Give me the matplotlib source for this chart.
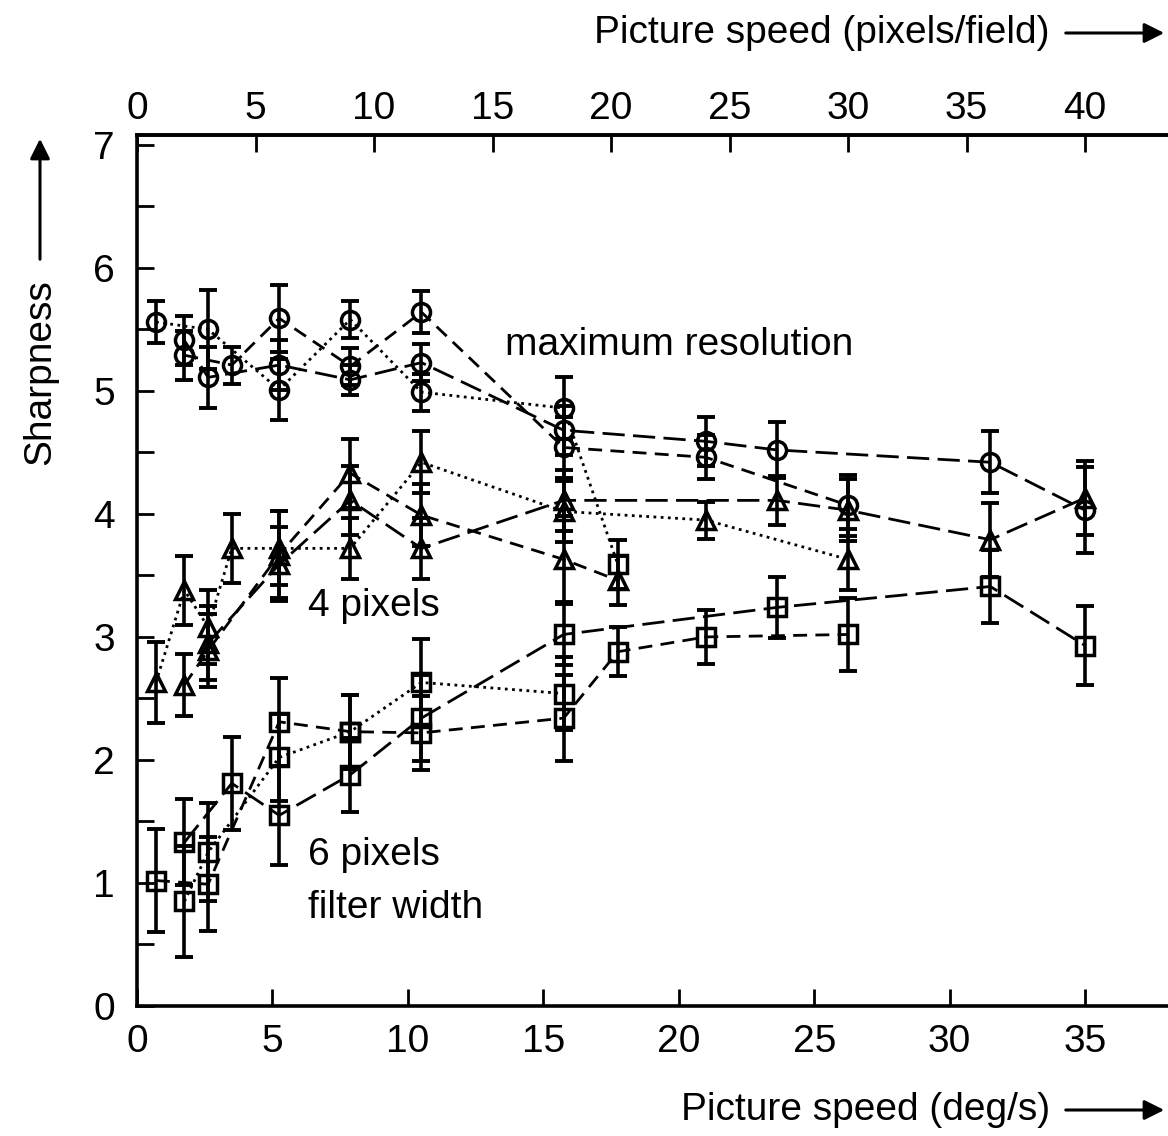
import matplotlib
matplotlib.use("Agg")
import matplotlib.pyplot as plt
import numpy as np

plt.rcParams['font.family'] = ['Liberation Sans', 'DejaVu Sans']

# ---- data (speed in deg/s, sharpness, error half-width) ----
# maximum resolution (circles)
c_dash_x = [1.75, 3.5, 5.25, 7.875, 10.5, 15.75, 21, 26.25]
c_dash_y = [5.29, 5.21, 5.59, 5.20, 5.64, 4.54, 4.46, 4.07]
c_dash_e = [0.20, 0.15, 0.27, 0.15, 0.17, 0.25, 0.18, 0.25]

c_dot_x = [0.7, 2.625, 5.25, 7.875, 10.5, 15.75, 17.75]
c_dot_y = [5.56, 5.50, 5.01, 5.58, 4.99, 4.86, 3.59]
c_dot_e = [0.17, 0.32, 0.25, 0.15, 0.15, 0.25, 0.20]

c_ld_x = [1.75, 2.625, 5.25, 7.875, 10.5, 15.75, 21, 23.625, 31.5, 35]
c_ld_y = [5.41, 5.11, 5.21, 5.09, 5.23, 4.68, 4.59, 4.52, 4.42, 4.03]
c_ld_e = [0.20, 0.25, 0.20, 0.12, 0.15, 0.20, 0.20, 0.23, 0.25, 0.35]

# 4 pixels filter (triangles)
t_dot_x = [0.7, 1.75, 2.625, 3.5, 5.25, 7.875, 10.5, 15.75, 21, 26.25]
t_dot_y = [2.63, 3.38, 3.08, 3.72, 3.72, 3.72, 4.42, 4.02, 3.95, 3.63]
t_dot_e = [0.33, 0.28, 0.30, 0.28, 0.30, 0.25, 0.25, 0.25, 0.15, 0.25]

t_dash_x = [1.75, 2.625, 5.25, 7.875, 10.5, 15.75, 17.75]
t_dash_y = [2.61, 2.89, 3.67, 4.33, 3.99, 3.63, 3.46]
t_dash_e = [0.25, 0.30, 0.35, 0.28, 0.25, 0.35, 0.20]

t_ld_x = [2.625, 5.25, 7.875, 10.5, 15.75, 23.625, 26.25, 31.5, 35]
t_ld_y = [2.95, 3.59, 4.11, 3.72, 4.11, 4.11, 4.03, 3.79, 4.13]
t_ld_e = [0.30, 0.30, 0.28, 0.25, 0.25, 0.20, 0.25, 0.30, 0.30]

# 6 pixels filter (squares)
s_ld_x = [1.75, 3.5, 5.25, 7.875, 10.5, 15.75, 23.625, 31.5, 35]
s_ld_y = [1.33, 1.81, 1.55, 1.88, 2.34, 3.02, 3.24, 3.41, 2.93]
s_ld_e = [0.35, 0.38, 0.40, 0.30, 0.35, 0.25, 0.25, 0.30, 0.32]

s_dash_x = [0.7, 2.625, 5.25, 7.875, 10.5, 15.75, 17.75, 21, 26.25]
s_dash_y = [1.02, 0.99, 2.31, 2.23, 2.22, 2.34, 2.88, 3.00, 3.02]
s_dash_e = [0.42, 0.38, 0.36, 0.30, 0.30, 0.35, 0.20, 0.22, 0.30]

s_dot_x = [1.75, 2.625, 5.25, 7.875, 10.5, 15.75]
s_dot_y = [0.85, 1.25, 2.02, 2.23, 2.63, 2.54]
s_dot_e = [0.45, 0.40, 0.35, 0.30, 0.35, 0.30]

bottom_ticks = [0, 5, 10, 15, 20, 25, 30, 35]
top_ticks = [0, 5, 10, 15, 20, 25, 30, 35, 40]
y_ticks = [0, 1, 2, 3, 4, 5, 6, 7]

# ---- figure ----
W, H = 1168, 1136
fig = plt.figure(figsize=(W / 100, H / 100), dpi=100)
x0, x1 = 137 / W, 1.0
y0, y1 = 1 - 1006 / H, 1 - 135 / H
ax = fig.add_axes([x0, y0, x1 - x0, y1 - y0])
ax.set_xlim(0, 38.06)
ax.set_ylim(0, 7.08)

DASH = (0, (5, 3))
DOT = (0, (1, 1.6))
LDASH = (0, (8, 3))
LW = 2.0
MS = 13

def draw(x, y, e, marker, ls, last_marker=None):
    x = np.asarray(x); y = np.asarray(y); e = np.asarray(e)
    ax.plot(x, y, color='black', lw=LW, linestyle=ls, zorder=2)
    ax.errorbar(x, y, yerr=e, fmt='none', ecolor='black', elinewidth=2.6,
                capsize=6.5, capthick=2.8, zorder=3)
    if last_marker is None:
        ax.plot(x, y, linestyle='none', marker=marker, ms=MS, mfc='none',
                mec='black', mew=2.5, zorder=4)
    else:
        ax.plot(x[:-1], y[:-1], linestyle='none', marker=marker, ms=MS, mfc='none',
                mec='black', mew=2.5, zorder=4)
        ax.plot(x[-1:], y[-1:], linestyle='none', marker=last_marker, ms=MS, mfc='none',
                mec='black', mew=2.5, zorder=4)

draw(c_dash_x, c_dash_y, c_dash_e, 'o', DASH)
draw(c_dot_x, c_dot_y, c_dot_e, 'o', DOT, last_marker='s')
draw(c_ld_x, c_ld_y, c_ld_e, 'o', LDASH)
draw(t_dot_x, t_dot_y, t_dot_e, '^', DOT)
draw(t_dash_x, t_dash_y, t_dash_e, '^', DASH)
draw(t_ld_x, t_ld_y, t_ld_e, '^', LDASH)
draw(s_ld_x, s_ld_y, s_ld_e, 's', LDASH)
draw(s_dash_x, s_dash_y, s_dash_e, 's', DASH)
draw(s_dot_x, s_dot_y, s_dot_e, 's', DOT)

# spines & ticks
for s in ['left', 'bottom', 'top']:
    ax.spines[s].set_linewidth(2.6)
ax.spines['right'].set_visible(False)
FS = 28
ax.set_xticks(bottom_ticks)
ax.set_yticks(y_ticks)
ax.set_yticks(np.arange(0.5, 7, 1.0), minor=True)
ax.tick_params(axis='both', which='both', direction='in', width=2.0, length=12,
               labelsize=FS)
ax.tick_params(axis='x', which='both', pad=13)
ax.tick_params(axis='y', which='both', pad=16)
ax.tick_params(axis='x', which='both', top=False)

sec = ax.secondary_xaxis('top', functions=(lambda d: d * 8 / 7, lambda p: p * 7 / 8))
sec.set_xticks(top_ticks)
sec.tick_params(direction='in', width=2.0, length=12, labelsize=FS, pad=6)
sec.spines['top'].set_linewidth(2.6)

# annotations
ax.text(13.6, 5.37, 'maximum resolution', fontsize=FS, va='center', ha='left')
ax.text(6.3, 3.25, '4 pixels', fontsize=FS, va='center', ha='left')
ax.text(6.3, 1.23, '6 pixels', fontsize=FS, va='center', ha='left')
ax.text(6.3, 0.80, 'filter width', fontsize=FS, va='center', ha='left')

# axis titles with arrows
fig.text(1050 / W, 1 - 1110 / H, 'Picture speed (deg/s)', fontsize=FS, ha='right', va='center')
fig.text(1050 / W, 1 - 33 / H, 'Picture speed (pixels/field)', fontsize=FS, ha='right', va='center')
fig.text(40 / W, 1 - 372 / H, 'Sharpness', fontsize=FS, rotation=90, ha='center', va='center')
arrow = dict(arrowstyle='-|>', color='black', lw=2.2, mutation_scale=30)
fig.patches.append(matplotlib.patches.FancyArrowPatch(
    (1063 / W, 1 - 1110 / H), (1167 / W, 1 - 1110 / H), transform=fig.transFigure, **arrow))
fig.patches.append(matplotlib.patches.FancyArrowPatch(
    (1063 / W, 1 - 33 / H), (1167 / W, 1 - 33 / H), transform=fig.transFigure, **arrow))
fig.patches.append(matplotlib.patches.FancyArrowPatch(
    (40 / W, 1 - 262 / H), (40 / W, 1 - 136 / H), transform=fig.transFigure, **arrow))

fig.savefig('out.png', dpi=100)
